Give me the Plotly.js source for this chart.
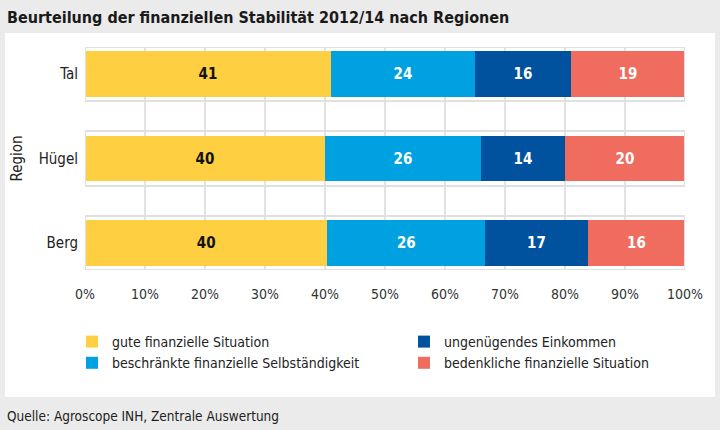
<!DOCTYPE html>
<html>
<head>
<meta charset="utf-8">
<script src="https://cdn.plot.ly/plotly-3.0.1.min.js"></script>
<style>html,body{margin:0;padding:0;background:#ebebeb;}#chart{width:720px;height:430px;}</style>
</head>
<body>
<div id="chart"></div>
<script>
const regions = ['Tal', 'Hügel', 'Berg'];
const seriesNames = ['gute finanzielle Situation', 'beschränkte finanzielle Selbständigkeit', 'ungenügendes Einkommen', 'bedenkliche finanzielle Situation'];
const gute = [41.0, 40.0, 40.4];
const beschraenkt = [24.0, 26.0, 26.3];
const ungenuegend = [16.0, 14.0, 17.1];
const bedenklich = [19.0, 20.0, 16.2];
const xTicks = [0, 10, 20, 30, 40, 50, 60, 70, 80, 90, 100];
const xTickLabels = ['0%', '10%', '20%', '30%', '40%', '50%', '60%', '70%', '80%', '90%', '100%'];
const frameTotal = [100, 100, 100];

const colors = ['#fdcf41', '#00a1e1', '#00519e', '#ef6c5e'];
const textColors = ['#111111', '#ffffff', '#ffffff', '#ffffff'];
const legendIds = ['legend', 'legend', 'legend2', 'legend2'];
const FONT = '"Liberation Sans Narrow", "DejaVu Sans Condensed", "Roboto", sans-serif';

const values = [gute, beschraenkt, ungenuegend, bedenklich];
const traces = [];
// frame around each bar (own overlaying axis so it is not stacked)
traces.push({
  type: 'bar', orientation: 'h', x: frameTotal, y: regions, yaxis: 'y2',
  width: 0.64, marker: {color: 'rgba(0,0,0,0)', line: {color: '#e0e0e0', width: 2}},
  showlegend: false, hoverinfo: 'skip', textposition: 'none'
});
values.forEach((v, i) => {
  traces.push({
    type: 'bar', orientation: 'h', name: seriesNames[i], x: v, y: regions,
    width: 0.535, legend: legendIds[i],
    marker: {color: colors[i], line: {width: 0}},
    texttemplate: '%{x:.0f}', textposition: 'inside', insidetextanchor: 'middle',
    textfont: {family: FONT, size: 15, color: textColors[i], weight: 'bold'},
    hoverinfo: 'x+name'
  });
});

const L = 85, R = 685, T = 47, B = 270;
const px = p => (p - L) / (R - L);
const py = p => (B - p) / (B - T);

const yRange = [2.32, -0.32];
const legendFont = {family: FONT, size: 14, color: '#222222'};
const layout = {
  width: 720, height: 430,
  paper_bgcolor: '#ebebeb', plot_bgcolor: 'rgba(0,0,0,0)',
  margin: {l: L, r: 720 - R, t: T, b: 430 - B, pad: 0},
  barmode: 'stack',
  font: {family: FONT, size: 14, color: '#222222'},
  xaxis: {
    range: [0, 100], tickvals: xTicks, ticktext: xTickLabels,
    showgrid: true, gridcolor: '#e2e2e2', gridwidth: 1.5,
    zeroline: false, showline: false, ticks: '', ticklen: 0,
    ticklabelstandoff: 14,
    tickfont: {family: FONT, size: 14, color: '#333333'}, fixedrange: true
  },
  yaxis: {
    type: 'category', categoryorder: 'array', categoryarray: regions,
    range: yRange, showgrid: false, zeroline: false, showline: false, ticks: '',
    ticklabelstandoff: 6,
    tickfont: {family: FONT, size: 15, color: '#222222'},
    title: {text: 'Region', font: {family: FONT, size: 15, color: '#222222'}, standoff: 12}
  },
  yaxis2: {
    type: 'category', categoryorder: 'array', categoryarray: regions,
    range: yRange, overlaying: 'y', showgrid: false, zeroline: false,
    showticklabels: false, ticks: ''
  },
  showlegend: true,
  legend: {
    orientation: 'v', x: px(72), xanchor: 'left', y: py(326), yanchor: 'top',
    traceorder: 'normal', font: legendFont, itemsizing: 'constant', bgcolor: 'rgba(0,0,0,0)'
  },
  legend2: {
    orientation: 'v', x: px(404), xanchor: 'left', y: py(326), yanchor: 'top',
    traceorder: 'normal', font: legendFont, itemsizing: 'constant', bgcolor: 'rgba(0,0,0,0)'
  },
  shapes: [{
    type: 'rect', xref: 'paper', yref: 'paper', layer: 'below',
    x0: px(5), x1: px(715), y0: py(397), y1: py(33),
    fillcolor: '#ffffff', line: {width: 0}
  }],
  annotations: [
    {text: '<b>Beurteilung der finanziellen Stabilität 2012/14 nach Regionen</b>', xref: 'paper', yref: 'paper',
     x: px(5), y: py(17), xanchor: 'left', yanchor: 'middle', showarrow: false,
     font: {family: FONT, size: 16, color: '#1a1a1a'}},
    {text: 'Quelle: Agroscope INH, Zentrale Auswertung', xref: 'paper', yref: 'paper',
     x: px(5), y: py(416), xanchor: 'left', yanchor: 'middle', showarrow: false,
     font: {family: FONT, size: 13.5, color: '#222222'}}
  ]
};

Plotly.newPlot('chart', traces, layout, {displayModeBar: false, staticPlot: true});
</script>
</body>
</html>
